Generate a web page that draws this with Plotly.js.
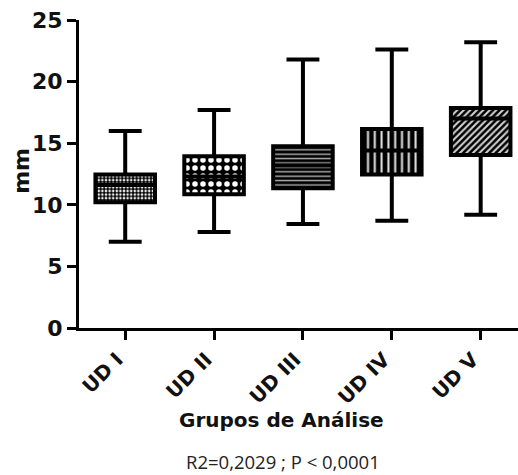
<!DOCTYPE html>
<html>
<head>
<meta charset="utf-8">
<script src="https://cdn.plot.ly/plotly-3.0.1.min.js"></script>
<style>
  html, body { margin: 0; padding: 0; background: #fff; }
  #chart { width: 518px; height: 475px; }
</style>
</head>
<body>
<div id="chart"></div>
<script>
// Groups and five-number summaries (mm)
const groups  = ["UD I", "UD II", "UD III", "UD IV", "UD V"];
const mins    = [7.0, 7.8, 8.45, 8.7, 9.2];
const q1s     = [10.2, 10.85, 11.35, 12.45, 14.05];
const medians = [11.6, 12.3, 13.2, 14.4, 17.0];
const q3s     = [12.45, 13.95, 14.75, 16.15, 17.85];
const maxs    = [16.0, 17.7, 21.8, 22.6, 23.2];

const yTicks = [0, 5, 10, 15, 20, 25];
const footnote = "R2=0,2029 ; P < 0,0001";

// Fill pattern for each box
const patterns = [
  {shape: ".", size: 3.6, solidity: 0.4, fgcolor: "#eeeeee"},
  {shape: ".", size: 8, solidity: 0.38, fgcolor: "#ffffff"},
  {shape: "-", size: 4.4, solidity: 0.33, fgcolor: "#b0b0b0"},
  {shape: "|", size: 6.8, solidity: 0.3, fgcolor: "#e6e6e6"},
  {shape: "/", size: 4.6, solidity: 0.45, fgcolor: "#d4d4d4"}
];

const boxW = 0.67;
const capHalf = 0.185;
const ink = "#000";

const traces = [];

// Boxes: bars from Q1 to Q3
groups.forEach((g, i) => {
  traces.push({
    type: "bar",
    x: [i],
    base: [q1s[i]],
    y: [q3s[i] - q1s[i]],
    width: boxW,
    marker: {
      color: ink,
      line: {color: ink, width: 4},
      pattern: Object.assign({fillmode: "replace", bgcolor: ink}, patterns[i])
    },
    hoverinfo: "skip",
    showlegend: false
  });
});

// Whiskers and caps
const wx = [], wy = [];
groups.forEach((g, i) => {
  wx.push(i, i, null, i, i, null);
  wy.push(q3s[i], maxs[i], null, q1s[i], mins[i], null);
  wx.push(i - capHalf, i + capHalf, null, i - capHalf, i + capHalf, null);
  wy.push(maxs[i], maxs[i], null, mins[i], mins[i], null);
});
traces.push({
  type: "scatter", mode: "lines", x: wx, y: wy,
  line: {color: ink, width: 4}, hoverinfo: "skip", showlegend: false
});

// Median lines
const mx = [], my = [];
groups.forEach((g, i) => {
  mx.push(i - boxW / 2, i + boxW / 2, null);
  my.push(medians[i], medians[i], null);
});
traces.push({
  type: "scatter", mode: "lines", x: mx, y: my,
  line: {color: ink, width: 4}, hoverinfo: "skip", showlegend: false
});

const tickFont = {family: "DejaVu Sans", size: 22, weight: "bold", color: "#111"};

const layout = {
  width: 518,
  height: 475,
  margin: {l: 79, r: 0, t: 20, b: 147, pad: 0},
  paper_bgcolor: "#fff",
  plot_bgcolor: "#fff",
  barmode: "overlay",
  xaxis: {
    range: [-0.52, 4.42],
    tickmode: "array",
    tickvals: groups.map((g, i) => i),
    ticktext: groups,
    tickangle: -45,
    ticklabelshift: -8,
    ticks: "outside",
    ticklen: 9,
    tickwidth: 3,
    tickcolor: ink,
    showline: true,
    linewidth: 3,
    linecolor: ink,
    showgrid: false,
    zeroline: false,
    tickfont: {family: "DejaVu Sans", size: 20, weight: "bold", color: "#111"}
  },
  yaxis: {
    range: [0, 25],
    tickmode: "array",
    tickvals: yTicks,
    ticks: "outside",
    ticklen: 9,
    tickwidth: 3,
    tickcolor: ink,
    showline: true,
    linewidth: 3,
    linecolor: ink,
    showgrid: false,
    zeroline: false,
    tickfont: tickFont
  },
  annotations: [
    {
      text: "mm", xref: "paper", yref: "paper",
      x: -0.13, y: 0.51, xanchor: "center", yanchor: "middle", textangle: -90,
      showarrow: false, font: {family: "DejaVu Sans", size: 22, weight: "bold", color: "#111"}
    },
    {
      text: "Grupos de Análise", xref: "paper", yref: "paper",
      x: 0.462, y: -0.299, xanchor: "center", yanchor: "middle",
      showarrow: false, font: {family: "DejaVu Sans", size: 20, weight: "bold", color: "#111"}
    },
    {
      text: footnote, xref: "paper", yref: "paper",
      x: 0.465, y: -0.435, xanchor: "center", yanchor: "middle",
      showarrow: false, font: {family: "Open Sans", size: 18.5, color: "#222"}
    }
  ]
};

Plotly.newPlot("chart", traces, layout, {staticPlot: true, displayModeBar: false});
</script>
</body>
</html>
